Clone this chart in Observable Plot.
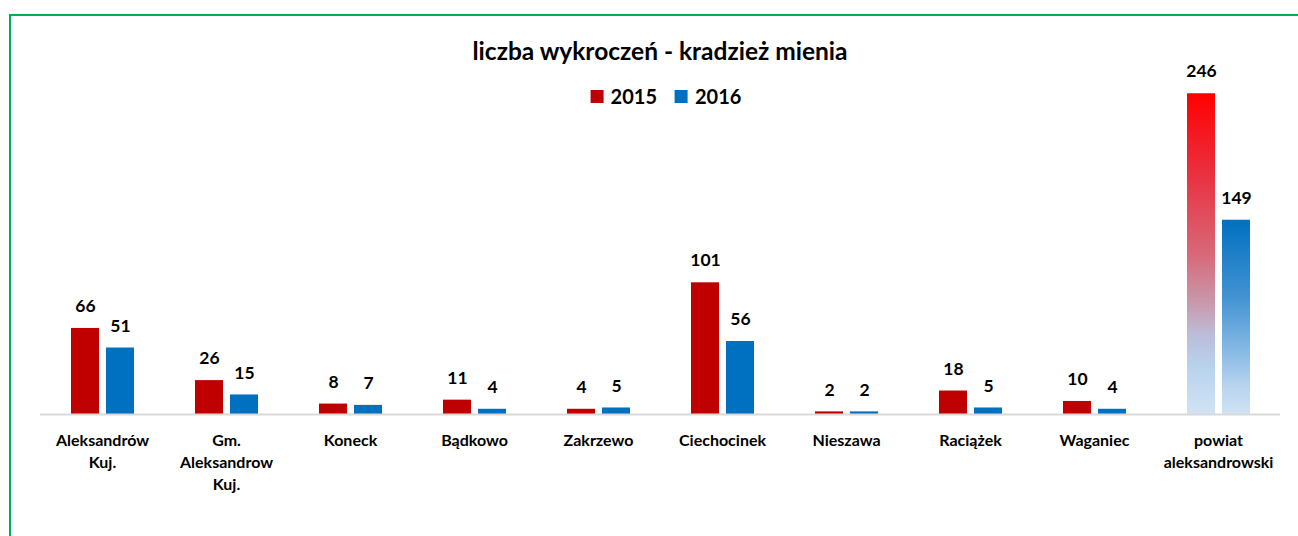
<!DOCTYPE html>
<html>
<head>
<meta charset="utf-8">
<script src="https://cdn.jsdelivr.net/npm/d3@7"></script>
<script src="https://cdn.jsdelivr.net/npm/@observablehq/plot@0.6"></script>
<style>
  html, body { margin: 0; padding: 0; background: #fff; }
  body { width: 1298px; height: 536px; position: relative; overflow: hidden; font-family: Lato, "Open Sans", sans-serif; }
  #frame { position: absolute; left: 9px; top: 14px; right: -5px; bottom: -5px; border-top: 2px solid #00b050; border-left: 2px solid #00b050; }
  #chart { position: absolute; left: 11px; top: 17px; }
  #title { position: absolute; left: 660px; top: 36px; transform: translateX(-50%); font-weight: 700; font-size: 24.5px; color: #000; white-space: nowrap; }
  #legend { position: absolute; left: 666px; top: 84px; transform: translateX(-50%); display: flex; align-items: center; font-weight: 700; font-size: 20px; white-space: nowrap; }
  #legend .sw { width: 13px; height: 13px; display: inline-block; margin-right: 7px; }
  #legend .item { display: flex; align-items: center; margin-right: 18px; }
</style>
</head>
<body>
<div id="frame"></div>
<div id="chart"></div>
<div id="title"></div>
<div id="legend"></div>
<script>
const categories = ["Aleksandrów Kuj.", "Gm. Aleksandrow Kuj.", "Koneck", "Bądkowo", "Zakrzewo", "Ciechocinek", "Nieszawa", "Raciążek", "Waganiec", "powiat aleksandrowski"];
const categoryLabels = ["Aleksandrów\nKuj.", "Gm.\nAleksandrow\nKuj.", "Koneck", "Bądkowo", "Zakrzewo", "Ciechocinek", "Nieszawa", "Raciążek", "Waganiec", "powiat\naleksandrowski"];
const years = ["2015", "2016"];
const values2015 = [66, 26, 8, 11, 4, 101, 2, 18, 10, 246];
const values2016 = [51, 15, 7, 4, 5, 56, 2, 5, 4, 149];
const colors = ["#c00000", "#0070c0"];
const titleText = "liczba wykroczeń - kradzież mienia";
const totalCategory = "powiat aleksandrowski";

const data = [];
categories.forEach((c, i) => {
  data.push({category: c, year: years[0], value: values2015[i]});
  data.push({category: c, year: years[1], value: values2016[i]});
});
const regular = data.filter(d => d.category !== totalCategory);
const total = data.filter(d => d.category === totalCategory);

const chart = Plot.plot({
  width: 1287,
  height: 519,
  marginLeft: 28,
  marginRight: 17,
  marginTop: 58,
  marginBottom: 122,
  style: {fontFamily: "Lato, 'Open Sans', sans-serif", color: "#000", background: "transparent"},
  fx: {domain: categories, padding: 0, label: null, axis: null},
  x: {domain: years, paddingInner: 0.2, paddingOuter: 0.871, axis: null},
  y: {domain: [0, 260], axis: null},
  color: {domain: years, range: colors},
  marks: [
    Plot.barY(regular, {fx: "category", x: "year", y: "value", fill: "year"}),
    Plot.barY(total.filter(d => d.year === years[0]), {fx: "category", x: "year", y: "value", fill: "url(#gradRed)"}),
    Plot.barY(total.filter(d => d.year === years[1]), {fx: "category", x: "year", y: "value", fill: "url(#gradBlue)"}),
    Plot.ruleY([0], {stroke: "#d9d9d9", strokeWidth: 2}),
    Plot.text(data, {fx: "category", x: "year", y: "value", text: d => String(d.value), dy: -22, fontSize: 17.5, fontWeight: "bold", fill: "#000"}),
    Plot.axisFx({
      anchor: "bottom",
      tickSize: 0,
      tickPadding: 16,
      fontSize: 16,
      fontWeight: "bold",
      lineHeight: 1.38,
      label: null,
      tickFormat: d => categoryLabels[categories.indexOf(d)]
    })
  ]
});
document.getElementById("chart").appendChild(chart);

const defs = d3.select(chart).insert("defs", ":first-child");
const gr = defs.append("linearGradient").attr("id", "gradRed").attr("x1", 0).attr("y1", 0).attr("x2", 0).attr("y2", 1);
[[0, "#ff0000"], [0.25, "#ea3040"], [0.5, "#d86878"], [0.65, "#c898aa"], [0.75, "#bcbcd8"], [0.85, "#b8d2ec"], [1, "#d0e3f4"]]
  .forEach(([o, c]) => gr.append("stop").attr("offset", o).attr("stop-color", c));
const gb = defs.append("linearGradient").attr("id", "gradBlue").attr("x1", 0).attr("y1", 0).attr("x2", 0).attr("y2", 1);
[[0, "#0070c0"], [0.4, "#4393d2"], [0.7, "#8dbde6"], [0.85, "#b6d3ee"], [1, "#d0e3f4"]]
  .forEach(([o, c]) => gb.append("stop").attr("offset", o).attr("stop-color", c));

document.getElementById("title").textContent = titleText;
const legend = document.getElementById("legend");
years.forEach((y, i) => {
  const item = document.createElement("span");
  item.className = "item";
  const sw = document.createElement("span");
  sw.className = "sw";
  sw.style.background = colors[i];
  item.appendChild(sw);
  item.appendChild(document.createTextNode(y));
  legend.appendChild(item);
});
legend.lastChild.style.marginRight = "0";
</script>
</body>
</html>
